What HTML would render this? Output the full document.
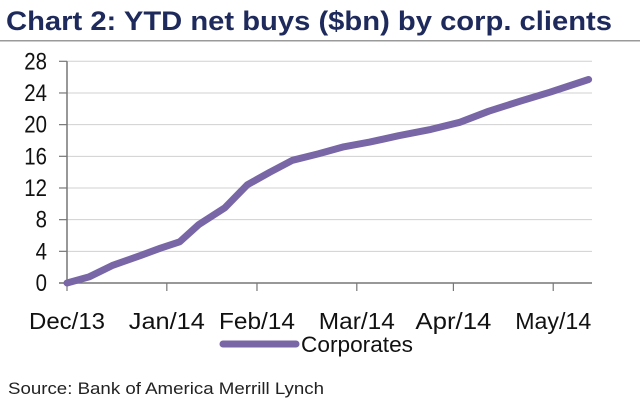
<!DOCTYPE html>
<html><head><meta charset="utf-8"><style>
body{margin:0;background:#fff;width:640px;height:411px;overflow:hidden;font-family:"Liberation Sans",sans-serif}
</style></head><body>
<svg width="640" height="411" viewBox="0 0 640 411">
<text x="6" y="30" font-size="27" font-weight="bold" fill="#1f2a5c" textLength="606" lengthAdjust="spacingAndGlyphs">Chart 2: YTD net buys ($bn) by corp. clients</text>
<rect x="0" y="40" width="640" height="1.5" fill="#9a9a9a"/>
<g id="grid"></g>
<g id="axes"></g>
<g id="series"></g>
<line x1="223" y1="344" x2="296" y2="344" stroke="#7866a6" stroke-width="7" stroke-linecap="round"/>
<text x="301" y="352" font-size="22" fill="#111" textLength="112" lengthAdjust="spacingAndGlyphs">Corporates</text>
<text x="8" y="394" font-size="17" fill="#222" textLength="316" lengthAdjust="spacingAndGlyphs">Source: Bank of America Merrill Lynch</text>
</svg>
<script>
const yTicks=[0,4,8,12,16,20,24,28];
const monthLabels=["Dec/13","Jan/14","Feb/14","Mar/14","Apr/14","May/14"];
const monthDays=[0,31,59,90,120,151];
const days=[0,7,14,23,29,35,41,49,56,63,70,78,86,94,103,113,122,131,141,150,162];
const values=[0,0.8,2.2,3.5,4.4,5.2,7.4,9.5,12.4,14,15.5,16.3,17.2,17.8,18.6,19.4,20.3,21.7,23,24.1,25.7];
const NS="http://www.w3.org/2000/svg";
const x0=67,y0=283,yTop=61.3,xPerDay=3.22;
const yScale=v=>y0-(v/28)*(y0-yTop);
const xScale=d=>x0+d*xPerDay;
function mk(t,a,p){const e=document.createElementNS(NS,t);for(const k in a)e.setAttribute(k,a[k]);p.appendChild(e);return e;}
const grid=document.getElementById('grid'),axes=document.getElementById('axes'),ser=document.getElementById('series');
yTicks.forEach(v=>{
 const y=yScale(v);
 if(v>0){const g=mk('line',{x1:x0,x2:592,y1:y,y2:y,stroke:'#d0d0d0','stroke-width':1},grid);
 
 }
 const tk=mk('line',{x1:x0-8,x2:x0,y1:y,y2:y,stroke:'#777','stroke-width':1.2},axes);
 
 
 const t=mk('text',{x:0,y:0,'font-size':24,'text-anchor':'end',fill:'#111',transform:'translate(47,'+(y+8)+') scale(0.85,1)'},axes);
 
 
 t.textContent=v;
});
const ya=mk('line',{x1:x0,x2:x0,y1:yTop,y2:y0,stroke:'#777','stroke-width':1.5},axes);


const xa=mk('line',{x1:x0-8,x2:592,y1:y0,y2:y0,stroke:'#777','stroke-width':1.5},axes);


monthLabels.forEach((m,i)=>{
 const x=xScale(monthDays[i]);
 const tk=mk('line',{x1:x,x2:x,y1:y0,y2:y0+8,stroke:'#777','stroke-width':1.2},axes);
 
 
 const t=mk('text',{x:x,y:y0+46,'font-size':23,'text-anchor':'middle',fill:'#111',textLength:m.length>5?76:70,lengthAdjust:'spacingAndGlyphs'},axes);
 
 
 t.textContent=m;
});
const pts=days.map((d,i)=>xScale(d).toFixed(1)+','+yScale(values[i]).toFixed(1)).join(' ');
const pl=mk('polyline',{points:pts,fill:'none',stroke:'#7866a6','stroke-width':7,'stroke-linejoin':'round','stroke-linecap':'round'},ser);


</script>
</body></html>
